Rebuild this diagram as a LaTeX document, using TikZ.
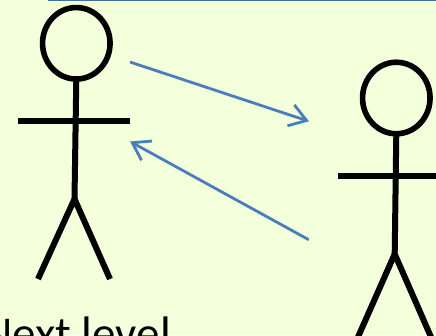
\documentclass[tikz,border=0pt]{standalone}
\usepackage{fontspec}
\setmainfont{Carlito}
\usetikzlibrary{arrows.meta,shapes.geometric}
\definecolor{bgc}{HTML}{F4FFDC}
\definecolor{flow}{HTML}{4A7EBB}
\definecolor{rule}{HTML}{41719C}
\pgfdeclarearrow{
  name=OpenVee,
  setup code={
    \pgfarrowssettipend{0pt}
    \pgfarrowssetlineend{-1.5pt}
    \pgfarrowssetbackend{-18pt}
    \pgfarrowssetvisualbackend{-3pt}
    \pgfarrowshullpoint{0pt}{0pt}
    \pgfarrowshullpoint{-18pt}{11pt}
    \pgfarrowshullpoint{-18pt}{-11pt}
  },
  drawing code={
    \pgfsetdash{}{0pt}
    \pgfsetmiterjoin
    \pgfpathmoveto{\pgfpoint{-18pt}{11pt}}
    \pgfpathlineto{\pgfpoint{-1.5pt}{0pt}}
    \pgfpathlineto{\pgfpoint{-18pt}{-11pt}}
    \pgfusepathqstroke
  }
}
\tikzset{
  limb/.style={draw=black,line width=6pt},
  headshape/.style={draw=black,line width=5.6pt,ellipse,minimum width=67.5pt,minimum height=71.5pt,inner sep=0pt,outer sep=0pt},
  flowarrow/.style={draw=flow,line width=2.8pt,-OpenVee},
  caption/.style={font=\fontsize{47}{47}\selectfont,inner sep=0pt,text=black}
}
\begin{document}
\begin{tikzpicture}[x=1pt,y=-1pt]
\useasboundingbox (0,0) rectangle (436,335);
\clip (0,0) rectangle (436,335);
\fill[bgc] (0,0) rectangle (436,335);
\coordinate (ruleL) at (48,0.5);
\coordinate (ruleR) at (436,0.5);
\draw[rule,line width=1.5pt] (ruleL) -- (ruleR);
% left figure
\node[headshape] (headA) at (76.3,43.3) {};
\coordinate (hipA) at (74.5,199);
\coordinate (armAl) at (18,121);
\coordinate (armAr) at (130,121);
\coordinate (footAl) at (38,279);
\coordinate (footAr) at (110,279);
\draw[limb] (headA.south) -- (hipA);
\draw[limb] (armAl) -- (armAr);
\draw[limb] (footAl) -- (hipA) -- (footAr);
% right figure
\node[headshape] (headB) at (396.3,98) {};
\coordinate (hipB) at (394.7,254);
\coordinate (armBl) at (337.5,175.7);
\coordinate (armBr) at (440,175.7);
\coordinate (footBl) at (358,337);
\coordinate (footBr) at (431,337);
\draw[limb] (headB.south) -- (hipB);
\draw[limb] (armBl) -- (armBr);
\draw[limb] (footBl) -- (hipB) -- (footBr);
% arrows
\coordinate (a1s) at (130,62);
\coordinate (a1e) at (308,121);
\coordinate (a2s) at (308.7,239.7);
\coordinate (a2e) at (131,142);
\draw[flowarrow] (a1s) -- (a1e);
\draw[flowarrow] (a2s) -- (a2e);
\node[caption,anchor=base east] (label) at (171,349.5) {Next level};
\end{tikzpicture}
\end{document}
